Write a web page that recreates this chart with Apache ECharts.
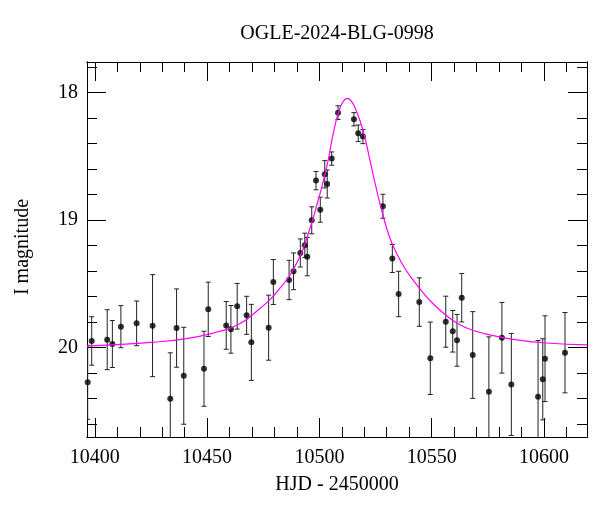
<!DOCTYPE html>
<html>
<head>
<meta charset="utf-8">
<script src="https://cdn.jsdelivr.net/npm/echarts@6/dist/echarts.min.js"></script>
<style>html,body{margin:0;padding:0;background:#fff}#c{width:600px;height:512px}</style>
</head>
<body>
<div id="c"></div>
<script>
// ---- data ----
const days = [10396.8,10398.6,10405.5,10407.8,10411.6,10418.6,10425.7,10433.6,10436.4,10439.6,10448.6,10450.5,10458.5,10460.6,10463.4,10467.6,10469.7,10477.4,10479.5,10486.5,10488.5,10491.5,10493.5,10494.6,10496.6,10498.5,10500.4,10502.4,10503.5,10505.5,10508.3,10515.4,10517.3,10519.4,10528.3,10532.5,10535.3,10544.5,10549.4,10556.3,10559.4,10561.3,10563.4,10568.3,10575.5,10581.3,10585.5,10597.4,10599.5,10600.5,10609.4];
const mags = [20.271,19.947,19.937,19.971,19.835,19.809,19.827,20.40,19.846,20.22,20.165,19.699,19.825,19.856,19.675,19.746,19.958,19.843,19.485,19.469,19.401,19.257,19.197,19.286,19.001,18.69,18.918,18.64,18.716,18.517,18.157,18.209,18.319,18.345,18.891,19.30,19.579,19.642,20.083,19.796,19.871,19.942,19.608,20.057,20.345,19.922,20.288,20.384,20.248,20.086,20.039];
const errs = [0.29,0.19,0.235,0.184,0.165,0.175,0.40,0.36,0.307,0.38,0.294,0.213,0.187,0.187,0.179,0.149,0.298,0.255,0.176,0.154,0.144,0.11,0.095,0.15,0.106,0.072,0.098,0.107,0.11,0.052,0.054,0.052,0.065,0.055,0.094,0.11,0.178,0.19,0.284,0.20,0.163,0.203,0.19,0.34,0.43,0.277,0.40,0.44,0.318,0.336,0.315];
// model curve
const modelDays = [10396.5,10410,10425,10440,10455,10462.5,10471,10482.4,10490.6,10495.1,10499.5,10503.3,10506.2,10508.4,10510.6,10512.5,10514.4,10516.6,10519.6,10522.5,10525.5,10528.5,10531.4,10534,10538,10541.8,10546,10550.7,10556.7,10562.6,10568.6,10577.5,10586.4,10601.2,10619.2];
const modelMags = [19.987,19.976,19.958,19.931,19.875,19.83,19.73,19.534,19.312,19.103,18.842,18.58,18.318,18.162,18.07,18.045,18.07,18.149,18.306,18.528,18.763,18.972,19.14,19.245,19.375,19.47,19.565,19.655,19.75,19.82,19.865,19.905,19.935,19.963,19.978];
const xMajor = [10400,10450,10500,10550,10600];
const xMinor = [10400,10410,10420,10430,10440,10450,10460,10470,10480,10490,10500,10510,10520,10530,10540,10550,10560,10570,10580,10590,10600,10610];
const yMajor = [18,19,20];
const yMinor = [17.8,18,18.2,18.4,18.6,18.8,19,19.2,19.4,19.6,19.8,20,20.2,20.4,20.6];
const titleText = 'OGLE-2024-BLG-0998';
const xName = 'HJD - 2450000';
const yName = 'I magnitude';

const FONT = '"Liberation Serif", "Times New Roman", serif';
const XMIN = 10396.5, XMAX = 10619.2, YMIN = 17.76, YMAX = 20.70;

const pts = days.map((d,i)=>[d,mags[i],errs[i]]);
const model = modelDays.map((d,i)=>[d,modelMags[i]]);

function xAx(pos, vals, len, labels){
  return {type:'value', position:pos, min:XMIN, max:XMAX,
    axisLine:{show:true,onZero:false,lineStyle:{color:'#000',width:1}},
    axisTick:{show:true,inside:true,length:len,customValues:vals,lineStyle:{color:'#000',width:1}},
    axisLabel:labels?{show:true,customValues:vals,margin:11,color:'#000',fontFamily:FONT,fontSize:20,formatter:function(v){return String(v);}}:{show:false},
    splitLine:{show:false}};
}
function yAx(pos, vals, len, labels){
  return {type:'value', position:pos, inverse:true, min:YMIN, max:YMAX,
    axisLine:{show:true,onZero:false,lineStyle:{color:'#000',width:1}},
    axisTick:{show:true,inside:true,length:len,customValues:vals,lineStyle:{color:'#000',width:1}},
    axisLabel:labels?{show:true,customValues:vals,margin:9,color:'#000',fontFamily:FONT,fontSize:20,formatter:function(v){return String(v);}}:{show:false},
    splitLine:{show:false}};
}

const chart = echarts.init(document.getElementById('c'), null, {renderer:'canvas'});
chart.setOption({
  animation:false,
  backgroundColor:'#fff',
  grid:{left:87,top:62,right:13,bottom:75,containLabel:false},
  xAxis:[xAx('bottom',xMajor,19,true),xAx('bottom',xMinor,10,false),xAx('top',xMajor,19,false),xAx('top',xMinor,10,false)],
  yAxis:[yAx('left',yMajor,19,true),yAx('left',yMinor,10,false),yAx('right',yMajor,19,false),yAx('right',yMinor,10,false)],
  graphic:[
    {type:'text',x:337,y:34,style:{text:titleText,fill:'#000',font:'20px '+FONT,align:'center',verticalAlign:'middle'}},
    {type:'text',x:337,y:485,style:{text:xName,fill:'#000',font:'20px '+FONT,align:'center',verticalAlign:'middle'}},
    {type:'text',x:23,y:247,rotation:Math.PI/2,style:{text:yName,fill:'#000',font:'20px '+FONT,align:'center',verticalAlign:'middle'}}
  ],
  series:[
    {type:'custom', xAxisIndex:0, yAxisIndex:0, clip:true, data:pts, encode:{x:0,y:1}, z:2,
     renderItem:function(params, api){
       const x=api.value(0), m=api.value(1), e=api.value(2);
       const t=api.coord([x,m-e]), b=api.coord([x,m+e]);
       const hw=2.5, st={stroke:'#222',lineWidth:1};
       return {type:'group',children:[
         {type:'line',shape:{x1:t[0],y1:t[1],x2:b[0],y2:b[1]},style:st},
         {type:'line',shape:{x1:t[0]-hw,y1:t[1],x2:t[0]+hw,y2:t[1]},style:st},
         {type:'line',shape:{x1:b[0]-hw,y1:b[1],x2:b[0]+hw,y2:b[1]},style:st}
       ]};
     }},
    {type:'scatter', xAxisIndex:0, yAxisIndex:0, data:pts.map(p=>[p[0],p[1]]), symbol:'circle', symbolSize:6,
     itemStyle:{color:'#000'}, clip:true, z:3},
    {type:'line', xAxisIndex:0, yAxisIndex:0, data:model, smooth:0.5, showSymbol:false, symbol:'none',
     lineStyle:{color:'#ff00ff',width:1.2}, clip:true, z:4}
  ]
});
</script>
</body>
</html>
